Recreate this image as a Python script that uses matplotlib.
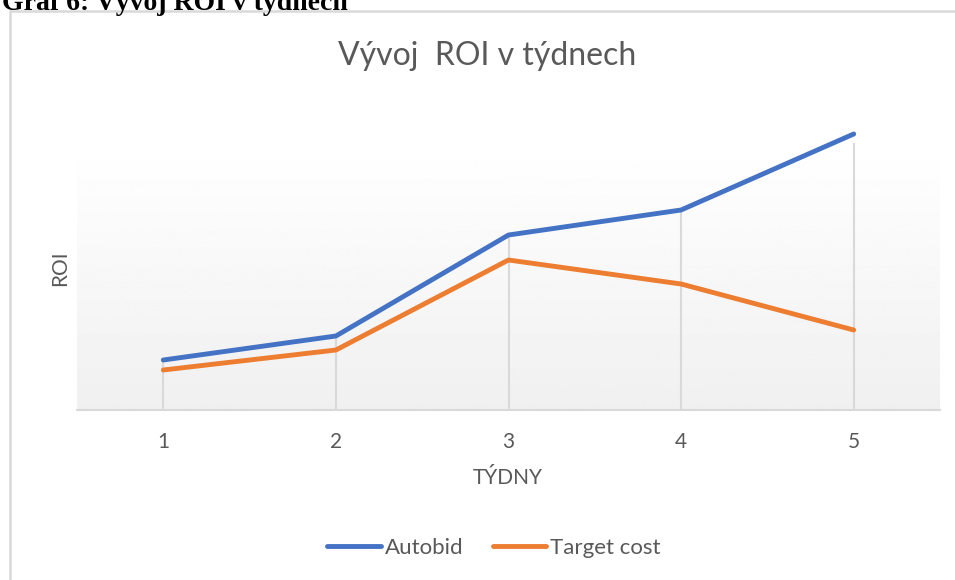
import numpy as np
import matplotlib.pyplot as plt
from matplotlib.patches import Rectangle
from matplotlib.lines import Line2D

# data (ROI, relative units, axis hidden)
tydny = [1, 2, 3, 4, 5]
autobid = [50, 74, 175, 200, 276]
target_cost = [40, 60, 150, 126, 80]

BLUE = "#4472c4"
ORANGE = "#ed7d31"
GRAY_TXT = "#595959"
GRID = "#d9d9d9"

plt.rcParams['font.family'] = ['Lato', 'DejaVu Sans']

W, H = 955, 580
fig = plt.figure(figsize=(W / 100, H / 100), dpi=100)

# caption above the chart (cut off at the top in the original)
fig.text(2 / W, 1 - 3 / H, "Graf 6: Vývoj ROI v týdnech", family=['Liberation Serif'],
         fontsize=20, fontweight='bold', color='black', ha='left', va='center')

# chart border
fig.patches.append(Rectangle((10 / W, -0.1), 1.0, 1 - 11 / H + 0.1, transform=fig.transFigure,
                             fill=False, edgecolor=GRID, linewidth=1.8))

left, right, top, bottom = 77, 940, 143, 410
ax = fig.add_axes([left / W, 1 - bottom / H, (right - left) / W, (bottom - top) / H])
ax.set_facecolor('none')

# gradient background of the plot area
grad = np.linspace(1.0, 0.94, 256).reshape(-1, 1)
ax.imshow(grad, cmap='gray', vmin=0, vmax=1, aspect='auto',
          extent=[0.5, 5.5, 0, 267], zorder=0)

ax.set_xlim(0.5, 5.5)
ax.set_ylim(0, 267)

# drop lines
tops = [max(a, b) for a, b in zip(autobid, target_cost)]
ax.vlines(tydny, 0, tops, color=GRID, linewidth=1.5, zorder=1)

ax.plot(tydny, autobid, color=BLUE, linewidth=3.5, solid_capstyle='round', zorder=3, clip_on=False)
ax.plot(tydny, target_cost, color=ORANGE, linewidth=3.5, solid_capstyle='round', zorder=3, clip_on=False)

for s in ['top', 'right', 'left']:
    ax.spines[s].set_visible(False)
ax.spines['bottom'].set_color(GRID)
ax.spines['bottom'].set_linewidth(1.5)

ax.set_xticks(tydny)
ax.set_yticks([])
ax.tick_params(axis='x', length=0, pad=16, labelsize=15, labelcolor=GRAY_TXT)

fig.text(508 / W, 1 - 478 / H, "TÝDNY", fontsize=15, color=GRAY_TXT, ha='center', va='center')
fig.text(60 / W, 1 - 268 / H, "ROI", fontsize=15, color=GRAY_TXT, ha='center', va='center',
         rotation=90)
fig.text(487 / W, 1 - 56 / H, "Vývoj  ROI v týdnech", fontsize=23, color=GRAY_TXT,
         ha='center', va='center')

handles = [Line2D([], [], color=BLUE, linewidth=3.5, solid_capstyle='round'),
           Line2D([], [], color=ORANGE, linewidth=3.5, solid_capstyle='round')]
fig.legend(handles, ["Autobid", "Target cost"], loc='center', bbox_to_anchor=(494 / W, 1 - 548 / H),
           ncol=2, frameon=False, fontsize=16, labelcolor=GRAY_TXT, handlelength=2.4,
           handletextpad=0.2, columnspacing=1.3)

fig.savefig("out.png", dpi=100)
